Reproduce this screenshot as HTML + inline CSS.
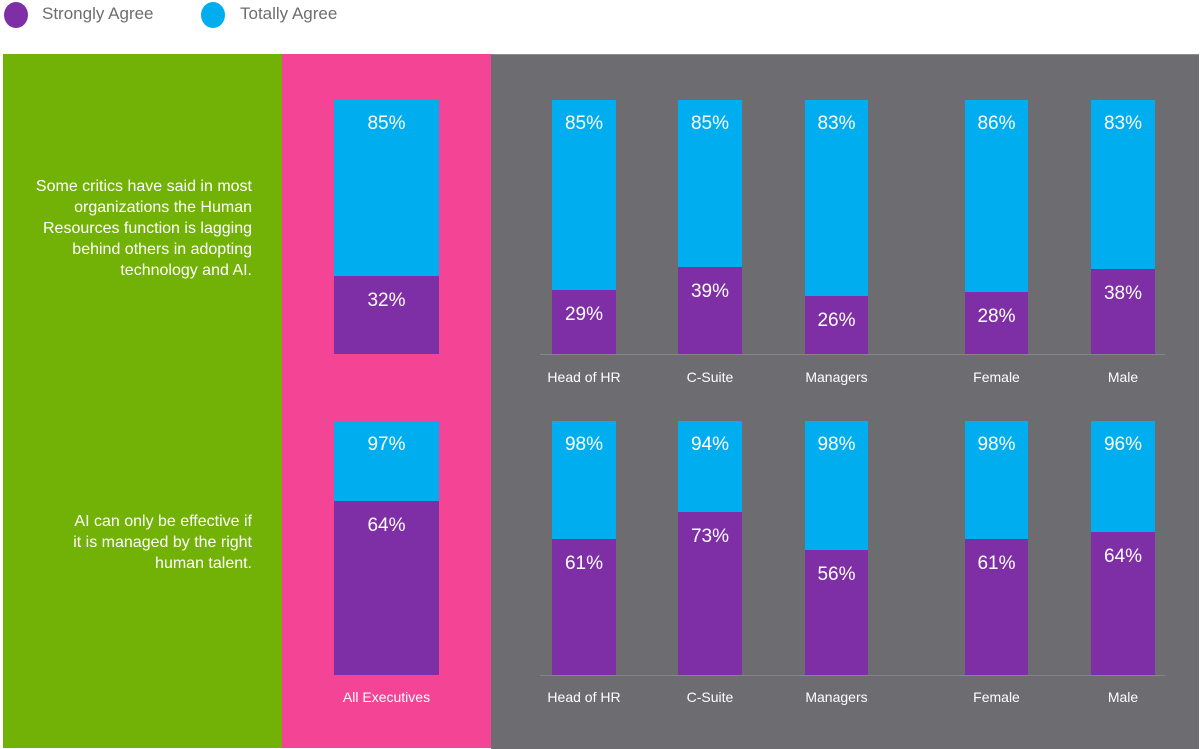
<!DOCTYPE html>
<html><head><style>
body{margin:0;width:1200px;height:748px;background:#fff;position:relative;overflow:hidden;font-family:"Liberation Sans",sans-serif}
.a{position:absolute}
.dot{position:absolute;width:24px;height:26px;border-radius:50%}
.lg{position:absolute;top:4px;font-size:17px;color:#6d6d72}
.b{position:absolute;background:#00aeef}
.p{position:absolute;background:#7f2fa5}
.v{position:absolute;color:#fff;font-size:19px;text-align:center}
.l{position:absolute;color:#fff;font-size:14px;text-align:center;width:120px}
.t{position:absolute;color:#fff;font-size:16px;text-align:right;line-height:21px;width:250px;left:2px;white-space:nowrap}
</style></head><body>
<div class="dot" style="left:4px;top:2px;background:#7f2fa5"></div>
<div class="lg" style="left:42px">Strongly Agree</div>
<div class="dot" style="left:201px;top:2px;background:#00aeef"></div>
<div class="lg" style="left:240px">Totally Agree</div>
<div class="a" style="left:3px;top:54px;width:279px;height:694px;background:#72b206"></div>
<div class="a" style="left:282px;top:54px;width:209px;height:694px;background:#f44496"></div>
<div class="a" style="left:491px;top:54px;width:708px;height:694px;background:#6d6c71;border-top:1px solid #8a8a8e"></div>
<div class="t" style="top:176px">Some critics have said in most<br>organizations the Human<br>Resources function is lagging<br>behind others in adopting<br>technology and AI.</div>
<div class="t" style="top:511px">AI can only be effective if<br>it is managed by the right<br>human talent.</div>
<div class="a" style="left:540px;top:354px;width:625px;height:1px;background:#85848a"></div>
<div class="a" style="left:540px;top:675px;width:625px;height:1px;background:#85848a"></div>
<div id="c"></div>
<script>
var xs=[[334,105],[552,64],[678,64],[805,63],[965,63],[1091,64]];
var names=["All Executives","Head of HR","C-Suite","Managers","Female","Male"];
var rows=[{top:100,bot:354,bt:[100,100,100,100,100,100],pt:[276,290,267,296,292,269],bv:[85,85,85,83,86,83],pv:[32,29,39,26,28,38],ly:369},
{top:421,bot:675,bt:[421,421,421,421,421,421],pt:[501,539,512,550,539,532],bv:[97,98,94,98,98,96],pv:[64,61,73,56,61,64],ly:689}];
var h="";
rows.forEach(function(r,ri){xs.forEach(function(x,i){
h+='<div class="b" style="left:'+x[0]+'px;top:'+r.bt[i]+'px;width:'+x[1]+'px;height:'+(r.pt[i]-r.bt[i])+'px"></div>';
h+='<div class="p" style="left:'+x[0]+'px;top:'+r.pt[i]+'px;width:'+x[1]+'px;height:'+(r.bot-r.pt[i])+'px"></div>';
h+='<div class="v" style="left:'+x[0]+'px;width:'+x[1]+'px;top:'+(r.bt[i]+13)+'px">'+r.bv[i]+'%</div>';
h+='<div class="v" style="left:'+x[0]+'px;width:'+x[1]+'px;top:'+(r.pt[i]+14)+'px">'+r.pv[i]+'%</div>';
if(i>0||ri==1)h+='<div class="l" style="left:'+(x[0]+x[1]/2-60)+'px;top:'+r.ly+'px">'+names[i]+'</div>';
});});
document.getElementById("c").innerHTML=h;
</script>
</body></html>
